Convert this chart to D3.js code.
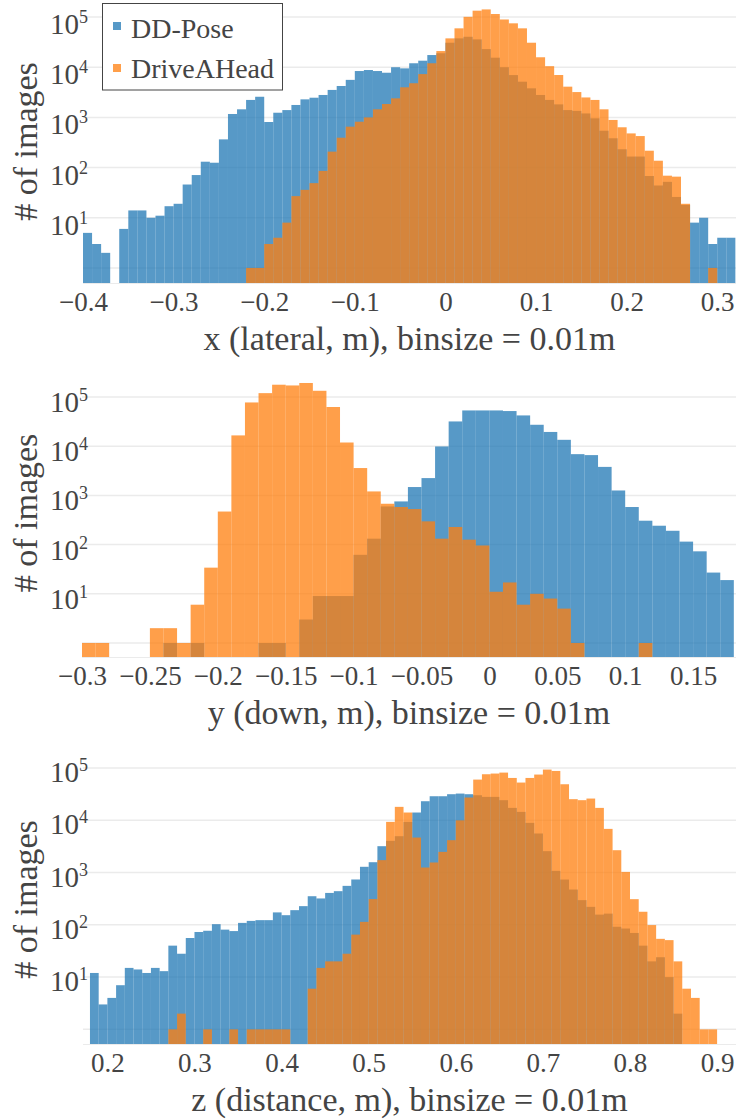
<!DOCTYPE html>
<html>
<head>
<meta charset="utf-8">
<script src="https://cdn.jsdelivr.net/npm/d3@7"></script>
<style>
  body { margin: 0; background: #fff; }
  svg, svg text { font-family: "Liberation Serif", "Times New Roman", Times, serif; fill: #444; }
</style>
</head>
<body>
<svg id="chart" width="736" height="1119"></svg>
<script>
const binSize = 0.01;
const seriesNames = ["DD-Pose", "DriveAHead"];
const yTickValues = [1, 10, 100, 1000, 10000, 100000];

// x (lateral): counts per 0.01 m bin, first bin starts at -0.40
const xStart = -0.40;
const xDDPose = [5, 3, 2, 0, 6, 14, 14, 10, 11, 17, 19, 46, 71, 131, 125, 365, 1170, 1450, 2230, 2580,
  810, 1240, 1400, 1770, 2290, 2470, 2800, 3530, 4230, 5600, 8400, 8800, 8400, 7770, 10000, 9500, 12000, 13500, 17500, 19000,
  30800, 37600, 40500, 35900, 23000, 15500, 10000, 6980, 5150, 3800, 2800, 2230, 1820, 1400, 1350, 1200, 960, 543, 384, 232,
  166, 166, 68, 44, 52, 26, 18, 8, 10, 3, 4, 4];
const xDriveAHead = [0, 0, 0, 0, 0, 0, 0, 0, 0, 0, 0, 0, 0, 0, 0, 0, 0, 0, 1, 1,
  3, 4, 8, 27, 36, 49, 86, 208, 394, 654, 820, 1000, 1450, 1850, 2400, 3980, 4800, 7300, 12000, 21000,
  37600, 59600, 101000, 134000, 142000, 115000, 89500, 75000, 59600, 30800, 15800, 10500, 7000, 4100, 3200, 2500, 2230, 1450, 890, 636,
  480, 425, 217, 137, 69, 66, 19, 0, 0, 1, 0, 0];
const xTickValues = [-0.4, -0.3, -0.2, -0.1, 0, 0.1, 0.2, 0.3];

// y (down): first bin starts at -0.30
const yStart = -0.30;
const yDDPose = [0, 0, 0, 0, 0, 0, 1, 0, 1, 0, 0, 0, 0, 1, 1, 0, 3, 9, 9, 9,
  62, 132, 597, 755, 1480, 2250, 9900, 31900, 53400, 53400, 53400, 51900, 42300, 27300, 19500, 13500, 6900, 6600, 3800, 1260,
  581, 306, 242, 191, 115, 73, 27, 19];
const yDriveAHead = [1, 1, 0, 0, 0, 2, 2, 1, 6, 34, 470, 16600, 77600, 120000, 178000, 172000, 193000, 134000, 62700, 11900,
  3600, 1205, 677, 581, 528, 297, 132, 228, 126, 96, 11, 17, 6, 10, 8, 5, 1, 0, 0, 0,
  0, 1, 0, 0, 0, 0, 0, 0];
const yAxisTickValues = [-0.3, -0.25, -0.2, -0.15, -0.1, -0.05, 0, 0.05, 0.1, 0.15];

// z (distance): first bin starts at 0.18
const zStart = 0.18;
const zDDPose = [12, 3, 4, 7, 15, 14, 12, 15, 13, 40, 28, 56, 73, 77, 103, 81, 76, 109, 119, 123,
  123, 173, 153, 191, 228, 353, 320, 408, 441, 557, 738, 1290, 1580, 3200, 4050, 4970, 9340, 14100, 23200, 28900,
  28900, 31600, 32500, 31600, 30200, 28100, 28100, 24300, 17300, 14500, 8940, 5600, 2570, 1080, 736, 474, 297, 221, 157, 164,
  92, 85, 70, 40, 20, 24, 10, 2, 0, 0, 0, 0];
const zDriveAHead = [0, 0, 0, 0, 0, 0, 0, 0, 0, 1, 2, 0, 0, 1, 0, 0, 1, 0, 1, 1,
  1, 1, 1, 0, 0, 6, 15, 20, 20, 28, 65, 114, 311, 1730, 9340, 18100, 14100, 4680, 1250, 1560,
  2490, 4170, 10000, 27300, 60200, 76200, 78500, 81900, 64700, 52800, 64700, 75100, 93500, 88000, 49000, 25400, 24300, 26100, 17300, 6860,
  2680, 1030, 310, 178, 99, 54, 51, 20, 6, 4, 1, 1];
const zTickValues = [0.2, 0.3, 0.4, 0.5, 0.6, 0.7, 0.8, 0.9];

const colors = ["#1f77b4", "#ff7f0e"];
const font = "'Liberation Serif', 'Times New Roman', Times, serif";

// layout of the three panels (pixels)
const panels = [
  { title: "x (lateral, m), binsize = 0.01m", start: xStart, series: [xDDPose, xDriveAHead], ticks: xTickValues,
    xDomain: [-0.4, 0.3207], left: 83, top: 0, bottom: 283, logMin: -0.3, logMax: 5.34, labShift: 17 },
  { title: "y (down, m), binsize = 0.01m", start: yStart, series: [yDDPose, yDriveAHead], ticks: yAxisTickValues,
    xDomain: [-0.3, 0.1816], left: 82, top: 369, bottom: 657, logMin: -0.285, logMax: 5.57, labShift: 15 },
  { title: "z (distance, m), binsize = 0.01m", start: zStart, series: [zDDPose, zDriveAHead], ticks: zTickValues,
    xDomain: [0.172, 0.9217], left: 83, top: 755, bottom: 1044, logMin: -0.28, logMax: 5.25, labShift: 14 }
];
const right = 736;

const svg = d3.select("#chart").attr("font-family", font);
const fmt = d3.format("~g");

panels.forEach((p, pi) => {
  const x = d3.scaleLinear().domain(p.xDomain).range([p.left, right]);
  const y = d3.scaleLog().domain([Math.pow(10, p.logMin), Math.pow(10, p.logMax)]).range([p.bottom, p.top]);

  const g = svg.append("g");

  g.append("clipPath").attr("id", "clip" + pi)
    .append("rect")
      .attr("x", p.left).attr("y", p.top)
      .attr("width", right - p.left).attr("height", p.bottom - p.top);

  // grid
  g.selectAll(".grid")
    .data(yTickValues)
    .enter().append("line")
      .attr("x1", p.left).attr("x2", right)
      .attr("y1", d => y(d)).attr("y2", d => y(d))
      .attr("stroke", "#ebebeb")
      .attr("stroke-width", 1.5);

  // bars, DD-Pose first, DriveAHead on top
  p.series.forEach((counts, si) => {
    const bins = counts.map((c, i) => ({ x0: Math.round(p.start * 100 + i) / 100, c: c }))
      .filter(d => d.c > 0);
    g.append("g")
      .attr("clip-path", `url(#clip${pi})`)
      .selectAll("rect")
      .data(bins)
      .enter().append("rect")
        .attr("x", d => x(d.x0))
        .attr("width", d => x(d.x0 + binSize) - x(d.x0))
        .attr("y", d => y(d.c))
        .attr("height", d => p.bottom - y(d.c))
        .attr("fill", colors[si])
        .attr("fill-opacity", 0.75);
  });

  g.append("line")
    .attr("x1", p.left).attr("x2", right)
    .attr("y1", p.bottom + 0.5).attr("y2", p.bottom + 0.5)
    .attr("stroke", "#ebebeb");

  // y tick labels 10^1 .. 10^5
  const yl = g.selectAll(".ylab")
    .data(yTickValues.slice(1))
    .enter().append("text")
      .attr("x", 88)
      .attr("y", d => y(d) + p.labShift)
      .attr("text-anchor", "end")
      .attr("font-family", font)
      .attr("font-size", 29);
  yl.append("tspan").text("10");
  yl.append("tspan").attr("dy", -11).attr("font-size", 18).text(d => Math.round(Math.log10(d)));

  // x axis
  const ax = g.append("g")
    .attr("transform", `translate(0,${p.bottom})`)
    .call(d3.axisBottom(x).tickValues(p.ticks).tickSize(0).tickPadding(9).tickFormat(fmt));
  ax.attr("font-family", font);
  ax.select(".domain").remove();
  ax.selectAll("text").attr("font-size", 27).attr("font-family", font);

  // titles
  g.append("text")
    .attr("x", (p.left + right) / 2)
    .attr("y", p.bottom + 67)
    .attr("text-anchor", "middle")
    .attr("font-family", font)
    .attr("font-size", 34)
    .text(p.title);

  g.append("text")
    .attr("transform", `translate(37,${(p.top + p.bottom) / 2}) rotate(-90)`)
    .attr("text-anchor", "middle")
    .attr("font-family", font)
    .attr("font-size", 34)
    .text("# of images");
});

// legend
const legend = svg.append("g");
legend.append("rect")
  .attr("x", 102.5).attr("y", 3.5)
  .attr("width", 180).attr("height", 86.5)
  .attr("fill", "#fff")
  .attr("stroke", "#444")
  .attr("stroke-width", 1);

seriesNames.forEach((name, i) => {
  legend.append("rect")
    .attr("x", 113).attr("y", 22 + i * 42)
    .attr("width", 8).attr("height", 8)
    .attr("fill", colors[i])
    .attr("fill-opacity", 0.75);
  legend.append("text")
    .attr("x", 131).attr("y", 38 + i * 39.5)
    .attr("font-family", font)
    .attr("font-size", 28)
    .text(name);
});
</script>
</body>
</html>
